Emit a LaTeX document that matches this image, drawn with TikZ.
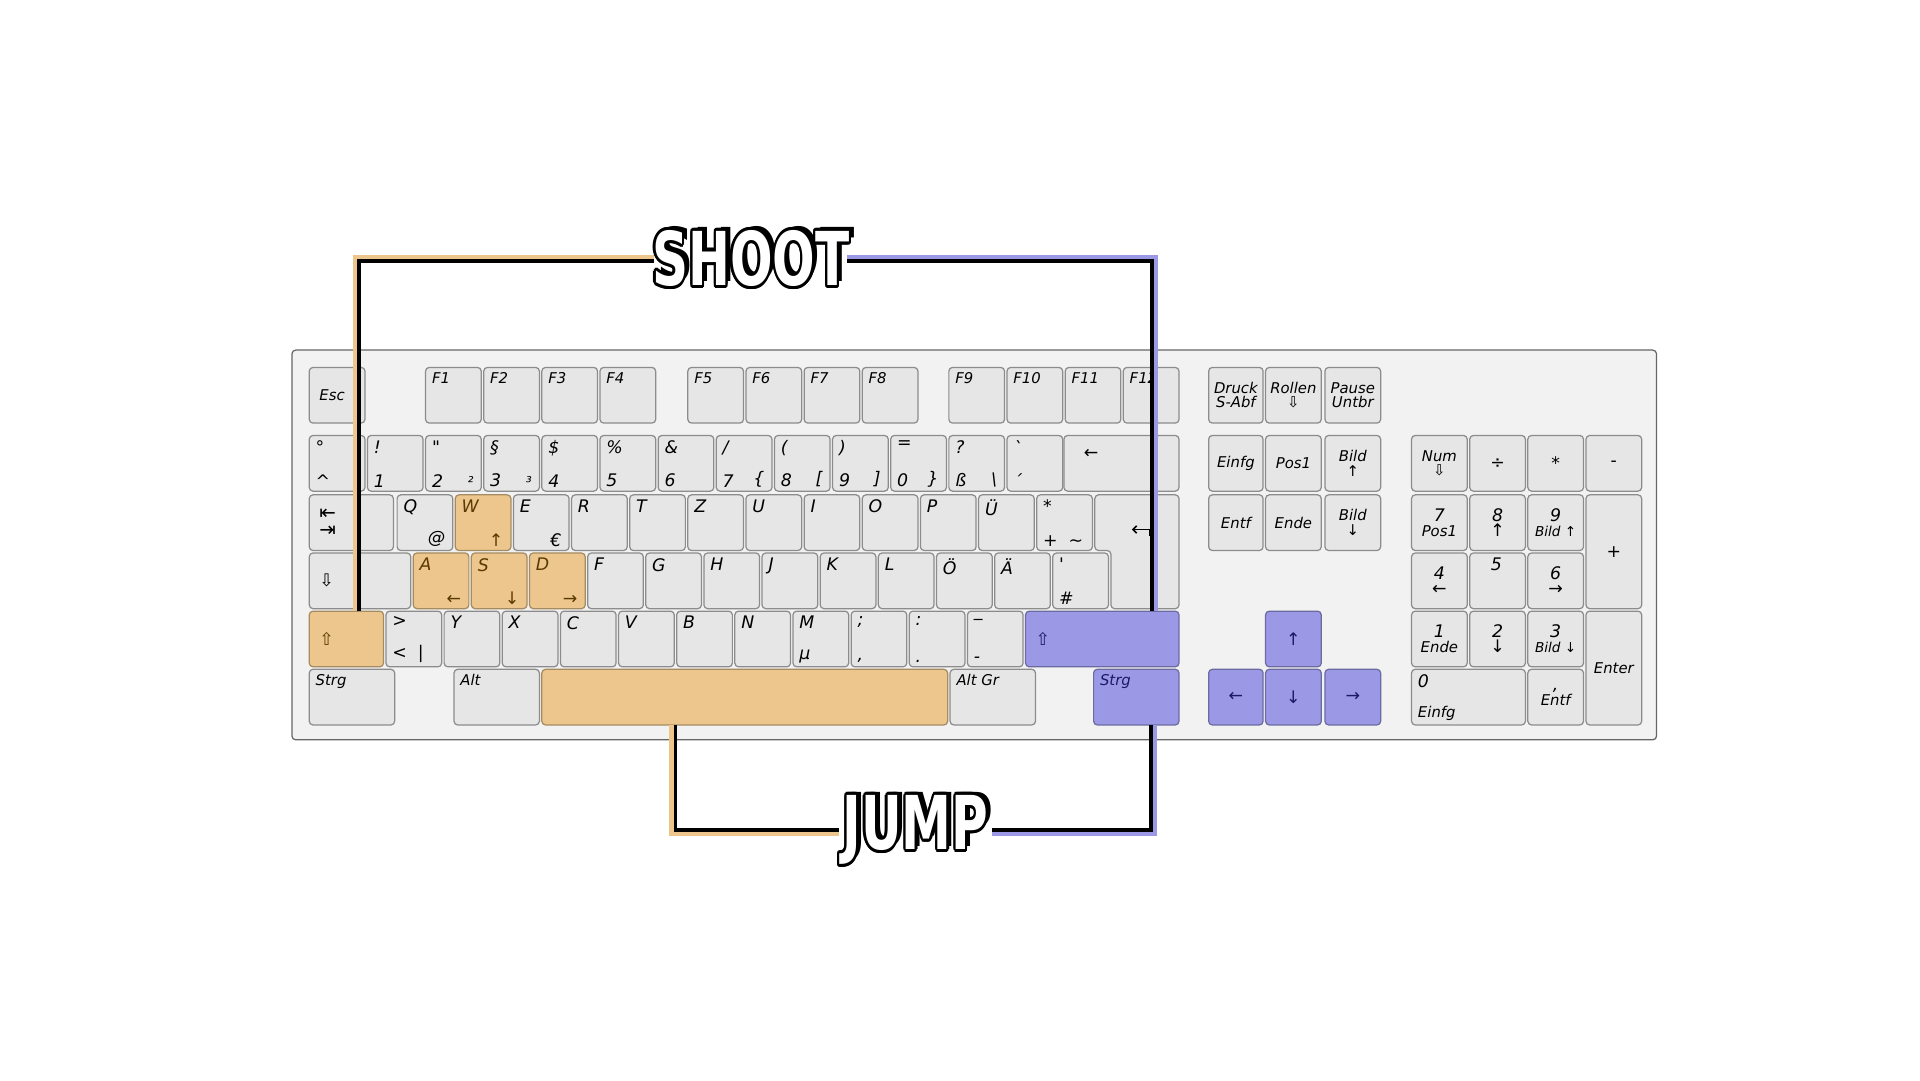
\documentclass[tikz,border=0pt]{standalone}
\usepackage{fontspec}
\usepackage[copies]{contour}
\usetikzlibrary{arrows.meta,positioning}
\newfontfamily\keyfont{DejaVu Sans}
\newfontfamily\titlefont{DejaVu Sans Condensed}
\definecolor{keyfill}{HTML}{E6E6E6}
\definecolor{casefill}{HTML}{F2F2F2}
\definecolor{keyline}{HTML}{8C8C8C}
\definecolor{wasd}{HTML}{ECC68C}
\definecolor{wasdtext}{HTML}{5A3A00}
\definecolor{lila}{HTML}{9B99E6}
\definecolor{lilatext}{HTML}{1A1A66}
\tikzset{
	key/.style = {shape=rectangle, draw=keyline, fill=keyfill, rounded corners=3pt, line width=1pt, inner sep=0pt, outer sep=0pt},
	orangekey/.style = {fill=wasd, draw=wasd!70!black},
	purplekey/.style = {fill=lila, draw=lila!70!black},
	lbl/.style = {inner sep=0pt, font=\keyfont\itshape\fontsize{14}{14}\selectfont},
	small/.style = {font=\keyfont\itshape\fontsize{12}{12}\selectfont},
	otext/.style = {text=wasdtext},
	ptext/.style = {text=lilatext},
	caseframe/.style = {draw=black!60, fill=casefill, line width=1pt, rounded corners=3pt},
	orangeline/.style = {draw=wasd, line width=4pt},
	purpleline/.style = {draw=lila, line width=4pt},
	inkline/.style = {draw=black, line width=3pt}
}
% key cap: name, left, top, width, height, style
\newcommand\keycap[6]{\node[key,#6,minimum width=#4pt,minimum height=#5pt] (#1) at ({#2+#4/2},{#3+#5/2}) {};}
% labels on a key
\newcommand\tl[3][]{\node[lbl,#1,anchor=north west] at ([shift={(5,4)}]#2.north west) {#3};}
\newcommand\bl[3][]{\node[lbl,#1,anchor=south west] at ([shift={(5,-3)}]#2.south west) {#3};}
\newcommand\br[3][]{\node[lbl,#1,anchor=south east] at ([shift={(-6,-3)}]#2.south east) {#3};}
\newcommand\cl[3][]{\node[lbl,#1,anchor=west] at ([xshift=8pt]#2.west) {#3};}
\newcommand\cc[3][]{\node[lbl,#1] at (#2) {#3};}
\newcommand\bigword[2]{%
	\node[font=\titlefont\bfseries\fontsize{60}{60}\selectfont, xscale=0.75, inner sep=0pt] at ([shift={(4,-4)}]#1) {#2};
	\node[font=\titlefont\bfseries\fontsize{60}{60}\selectfont, xscale=0.75, inner sep=0pt] (#1) at (#1) {\contourlength{2.5pt}\contour{black}{\textcolor{white}{#2}}};}

\begin{document}
\begin{tikzpicture}[x=1pt,y=-1pt]
	\useasboundingbox (0,0) rectangle (1552,873);
	\draw[caseframe] (236,283) rectangle (1339,598);

	% function row
	\keycap{esc}{250}{297}{45}{45}{}
	\cl[small]{esc}{Esc}
	\foreach \n [count=\i from 0] in {1,2,3,4} {\keycap{fa\i}{344+47*\i}{297}{45}{45}{} \tl[small]{fa\i}{F\n}}
	\foreach \n [count=\i from 0] in {5,6,7,8} {\keycap{fb\i}{556+47*\i}{297}{45}{45}{} \tl[small]{fb\i}{F\n}}
	\foreach \n [count=\i from 0] in {9,10,11,12} {\keycap{fc\i}{767+47*\i}{297}{45}{45}{} \tl[small]{fc\i}{F\n}}
	\keycap{druck}{977}{297}{44}{45}{}
	\cc[small,align=center]{druck}{Druck\\[-1pt]S-Abf}
	\keycap{rollen}{1023}{297}{45}{45}{}
	\cc[small,align=center]{rollen}{Rollen\\[-1pt]\upshape⇩}
	\keycap{pause}{1071}{297}{45}{45}{}
	\cc[small,align=center]{pause}{Pause\\[-1pt]Untbr}

	% number row
	\foreach \i in {0,...,12} {\keycap{n\i}{250+47*\i}{352}{45}{45}{}}
	\tl{n0}{°} \bl{n0}{\textasciicircum}
	\tl{n1}{!} \bl{n1}{1}
	\tl{n2}{"} \bl{n2}{2} \br[small]{n2}{²}
	\tl{n3}{§} \bl{n3}{3} \br[small]{n3}{³}
	\tl{n4}{\$} \bl{n4}{4}
	\tl{n5}{\%} \bl{n5}{5}
	\tl{n6}{\&} \bl{n6}{6}
	\tl{n7}{/} \bl{n7}{7} \br{n7}{\{}
	\tl{n8}{(} \bl{n8}{8} \br{n8}{[}
	\tl{n9}{)} \bl{n9}{9} \br{n9}{]}
	\tl{n10}{=} \bl{n10}{0} \br{n10}{\}}
	\tl{n11}{?} \bl{n11}{ß} \br{n11}{\textbackslash}
	\tl{n12}{\textasciigrave} \bl{n12}{´}
	\keycap{back}{860}{352}{93}{45}{}
	\node[lbl] at ([shift={(22,15)}]back.north west) {\upshape←};

	% tab row
	\keycap{tab}{250}{400}{68}{45}{}
	\cl[align=left,font=\keyfont\fontsize{16}{14}\selectfont]{tab}{⇤\\⇥}
	\foreach \c/\i in {Q/0,E/2,R/3,T/4,Z/5,U/6,I/7,O/8,P/9,Ü/10} {\keycap{q\i}{321+47*\i}{400}{45}{45}{} \tl{q\i}{\c}}
	\keycap{q1}{368}{400}{45}{45}{orangekey}
	\tl[otext]{q1}{W} \br[otext]{q1}{\upshape↑}
	\br{q0}{@} \br{q2}{€}
	\keycap{plus}{838}{400}{45}{45}{}
	\tl{plus}{*} \bl{plus}{+\ \ \textasciitilde}
	\draw[key] (885,400) -- (953,400) -- (953,492) -- (898,492) -- (898,445) -- (885,445) -- cycle;
	\coordinate (enter) at (921,433);
	\draw[line width=1.2pt,-{Straight Barb[length=3pt]}] ([xshift=8]enter) -- ++(0,-5) -- ++(-14,0);

	% home row
	\keycap{caps}{250}{447}{82}{45}{}
	\cl{caps}{\upshape⇩}
	\foreach \c/\i in {F/3,G/4,H/5,J/6,K/7,L/8,Ö/9,Ä/10} {\keycap{a\i}{334+47*\i}{447}{45}{45}{} \tl{a\i}{\c}}
	\foreach \c/\a/\i in {A/←/0,S/↓/1,D/→/2} {\keycap{a\i}{334+47*\i}{447}{45}{45}{orangekey} \tl[otext]{a\i}{\c} \br[otext]{a\i}{\upshape\a}}
	\keycap{hash}{851}{447}{45}{45}{}
	\tl{hash}{\textquotesingle} \bl{hash}{\#}

	% shift row
	\keycap{lsh}{250}{494}{60}{45}{orangekey}
	\cl[otext]{lsh}{\upshape⇧}
	\keycap{less}{312}{494}{45}{45}{}
	\tl{less}{>} \bl{less}{<\ \ |}
	\foreach \c/\i in {Y/0,X/1,C/2,V/3,B/4,N/5,M/6} {\keycap{z\i}{359+47*\i}{494}{45}{45}{} \tl{z\i}{\c}}
	\bl{z6}{µ}
	\keycap{z7}{688}{494}{45}{45}{} \tl{z7}{;} \bl{z7}{,}
	\keycap{z8}{735}{494}{45}{45}{} \tl{z8}{:} \bl{z8}{.}
	\keycap{z9}{782}{494}{45}{45}{} \tl{z9}{\_} \bl{z9}{-}
	\keycap{rsh}{829}{494}{124}{45}{purplekey}
	\cl[ptext]{rsh}{\upshape⇧}

	% bottom row
	\keycap{lstrg}{250}{541}{69}{45}{} \tl[small]{lstrg}{Strg}
	\keycap{alt}{367}{541}{69}{45}{} \tl[small]{alt}{Alt}
	\keycap{space}{438}{541}{328}{45}{orangekey}
	\keycap{altgr}{768}{541}{69}{45}{} \tl[small]{altgr}{Alt Gr}
	\keycap{rstrg}{884}{541}{69}{45}{purplekey} \tl[small,ptext]{rstrg}{Strg}

	% navigation block
	\keycap{einfg}{977}{352}{44}{45}{} \cc[small]{einfg}{Einfg}
	\keycap{pos}{1023}{352}{45}{45}{} \cc[small]{pos}{Pos1}
	\keycap{bup}{1071}{352}{45}{45}{} \cc[small,align=center]{bup}{Bild\\\upshape↑}
	\keycap{entf}{977}{400}{44}{45}{} \cc[small]{entf}{Entf}
	\keycap{ende}{1023}{400}{45}{45}{} \cc[small]{ende}{Ende}
	\keycap{bdn}{1071}{400}{45}{45}{} \cc[small,align=center]{bdn}{Bild\\\upshape↓}
	\keycap{up}{1023}{494}{45}{45}{purplekey} \cc[ptext]{up}{\upshape↑}
	\keycap{left}{977}{541}{44}{45}{purplekey} \cc[ptext]{left}{\upshape←}
	\keycap{down}{1023}{541}{45}{45}{purplekey} \cc[ptext]{down}{\upshape↓}
	\keycap{right}{1071}{541}{45}{45}{purplekey} \cc[ptext]{right}{\upshape→}

	% number pad
	\keycap{num}{1141}{352}{45}{45}{} \cc[small,align=center]{num}{Num\\\upshape⇩}
	\keycap{div}{1188}{352}{45}{45}{} \cc{div}{\upshape÷}
	\keycap{mul}{1235}{352}{45}{45}{} \cc{mul}{\upshape*}
	\keycap{sub}{1282}{352}{45}{45}{} \cc{sub}{\upshape-}
	\keycap{np7}{1141}{400}{45}{45}{} \cc[align=center]{np7}{7\\[-2pt]{\fontsize{12}{12}\selectfont Pos1}}
	\keycap{np8}{1188}{400}{45}{45}{} \cc[align=center]{np8}{8\\[-2pt]\upshape↑}
	\keycap{np9}{1235}{400}{45}{45}{} \cc[align=center]{np9}{9\\[-2pt]{\fontsize{11}{11}\selectfont Bild \upshape↑}}
	\keycap{add}{1282}{400}{45}{92}{} \cc{add}{\upshape+}
	\keycap{np4}{1141}{447}{45}{45}{} \cc[align=center]{np4}{4\\[-2pt]\upshape←}
	\keycap{np5}{1188}{447}{45}{45}{} \tl{np5}{\hspace{12pt}5}
	\keycap{np6}{1235}{447}{45}{45}{} \cc[align=center]{np6}{6\\[-2pt]\upshape→}
	\keycap{np1}{1141}{494}{45}{45}{} \cc[align=center]{np1}{1\\[-2pt]{\fontsize{12}{12}\selectfont Ende}}
	\keycap{np2}{1188}{494}{45}{45}{} \cc[align=center]{np2}{2\\[-2pt]\upshape↓}
	\keycap{np3}{1235}{494}{45}{45}{} \cc[align=center]{np3}{3\\[-2pt]{\fontsize{11}{11}\selectfont Bild \upshape↓}}
	\keycap{npent}{1282}{494}{45}{92}{} \cc[small]{npent}{Enter}
	\keycap{np0}{1141}{541}{92}{45}{} \tl{np0}{0} \bl[small]{np0}{Einfg}
	\keycap{comma}{1235}{541}{45}{45}{} \cc[align=center]{comma}{,\\[-2pt]{\fontsize{12}{12}\selectfont Entf}}

	% titles
	\coordinate (shoot) at (607,210);
	\coordinate (jump) at (740,672);
	\coordinate (sa) at ([xshift=-78]shoot);
	\coordinate (sb) at ([xshift=78]shoot);
	\coordinate (ja) at ([xshift=-62]jump);
	\coordinate (jb) at ([xshift=62]jump);

	% connectors
	\draw[orangeline] ([xshift=7]lsh.north) |- ([yshift=2]sa);
	\draw[inkline] ([xshift=10]lsh.north) |- ([yshift=-1]sa);
	\draw[purpleline] ([xshift=43]rsh.north) |- ([yshift=2]sb);
	\draw[inkline] ([xshift=40]rsh.north) |- ([yshift=-1]sb);
	\draw[orangeline] ([xshift=-59]space.south) |- ([yshift=-2]ja);
	\draw[inkline] ([xshift=-56]space.south) |- ([yshift=1]ja);
	\draw[purpleline] ([xshift=15]rstrg.south) |- ([yshift=-2]jb);
	\draw[inkline] ([xshift=12]rstrg.south) |- ([yshift=1]jb);

	\bigword{shoot}{SHOOT}
	\bigword{jump}{JUMP}
\end{tikzpicture}
\end{document}
